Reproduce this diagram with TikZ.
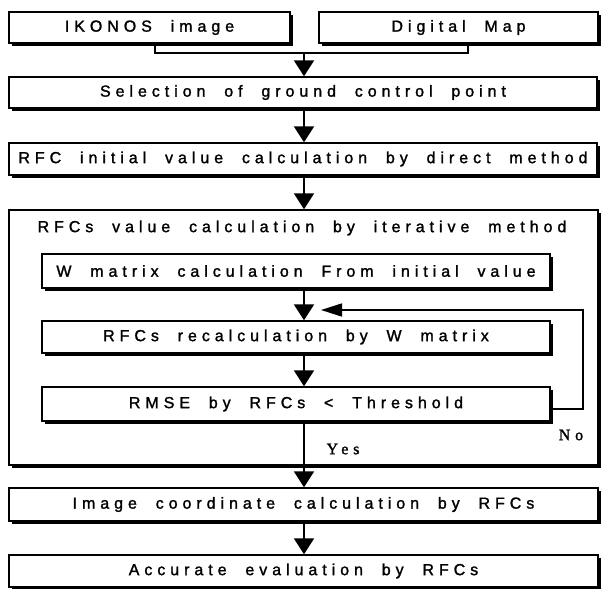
\documentclass[tikz,border=0pt]{standalone}
\usepackage{fontspec}
\setmainfont{Liberation Sans}[LetterSpace=31, WordSpace=2, FakeBold=1.5]
\newfontfamily\answerfont{Liberation Serif}[LetterSpace=30, FakeBold=1.5]
\usetikzlibrary{arrows.meta,shadows}
\begin{document}
\begin{tikzpicture}[x=1pt,y=-1pt,
  box/.style={draw, line width=1.4pt, fill=white, inner sep=0pt,
    font=\fontsize{16}{18}\selectfont,
    drop shadow={shadow xshift=3.2pt, shadow yshift=-3.2pt, fill=black, opacity=1}},
  flow/.style={line width=2pt, -{Triangle[width=20pt,length=16pt]}},
  back/.style={line width=1.6pt, -{Triangle[width=13pt,length=21pt]}},
  merge/.style={line width=1.6pt},
  answer/.style={font=\answerfont\fontsize{16}{18}\selectfont, inner sep=0pt}]
  \fill[white] (0,0) rectangle (603,589);
  \useasboundingbox (0,0) rectangle (603,589);

  % input boxes
  \node[box, minimum width=281pt, minimum height=31pt] (ikonos) at (149.5,27.5) {IKONOS image};
  \node[box, minimum width=279pt, minimum height=31pt] (dmap) at (458.5,27.5) {Digital Map};

  % main chain
  \node[box, minimum width=588pt, minimum height=31pt] (sel) at (303,92.5) {Selection of ground control point};
  \node[box, minimum width=588pt, minimum height=32pt] (init) at (303,159) {RFC initial value calculation by direct method};

  % iterative block
  \node[box, minimum width=589pt, minimum height=255pt] (loop) at (303.5,337.5) {};
  \node[font=\fontsize{16}{18}\selectfont, inner sep=0pt] (looptitle) at (302,228) {RFCs value calculation by iterative method};
  \node[box, minimum width=508pt, minimum height=34pt] (wmat) at (296,271) {W matrix calculation From initial value};
  \node[box, minimum width=508pt, minimum height=32pt] (recalc) at (296,337) {RFCs recalculation by W matrix};
  \node[box, minimum width=508pt, minimum height=34pt] (rmse) at (296,404) {RMSE by RFCs < Threshold};

  % output boxes
  \node[box, minimum width=589pt, minimum height=33pt] (imgc) at (303.5,504.5) {Image coordinate calculation by RFCs};
  \node[box, minimum width=589pt, minimum height=32pt] (acc) at (303.5,571) {Accurate evaluation by RFCs};

  % connectors
  \coordinate (mL) at (155,53);
  \coordinate (mR) at (468,53);
  \coordinate (mC) at (304,53);
  \draw[merge] (ikonos.south -| mL) -- (mL) -- (mR) -- (dmap.south -| mR);
  \draw[flow] (mC) -- (sel.north -| mC);
  \draw[flow] (sel.south -| mC) -- (init.north -| mC);
  \draw[flow] (init.south -| mC) -- (loop.north -| mC);
  \draw[flow] (wmat.south -| mC) -- (recalc.north -| mC);
  \draw[flow] (recalc.south -| mC) -- (rmse.north -| mC);
  \draw[flow] (rmse.south -| mC) -- (imgc.north -| mC);
  \draw[flow] (imgc.south -| mC) -- (acc.north -| mC);

  % loop back when threshold not reached
  \coordinate (fbStart) at (550,409);
  \coordinate (fbLow) at (583,409);
  \coordinate (fbHigh) at (583,310);
  \coordinate (fbEnd) at (321,310);
  \draw[back] (fbStart) -- (fbLow) -- (fbHigh) -- (fbEnd);

  \node[answer] (no) at (571,435) {No};
  \node[answer] (yes) at (343,449) {Yes};
\end{tikzpicture}
\end{document}
